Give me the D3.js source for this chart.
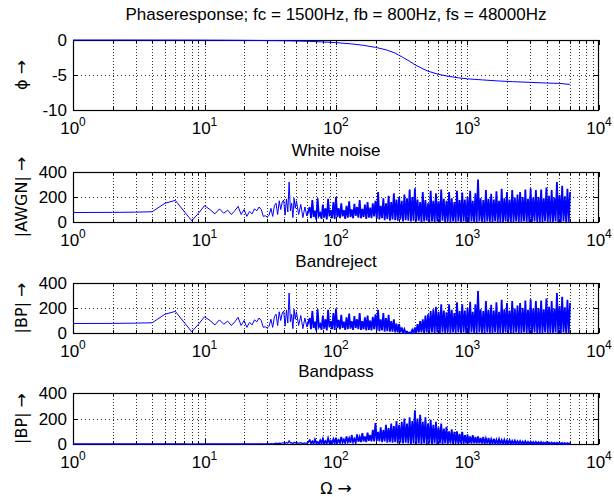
<!DOCTYPE html>
<html><head><meta charset="utf-8">
<script src="https://cdn.jsdelivr.net/npm/d3@7"></script>
<style>body{margin:0;background:#fff} text{font-family:"Liberation Sans",Arial,Helvetica,sans-serif;fill:#000}</style>
</head><body><svg id="c" width="614" height="497"></svg>
<script>
// ---------- data ----------
const mainTitle = "Phaseresponse; fc = 1500Hz, fb = 800Hz, fs = 48000Hz";
const panelTitles = ["", "White noise", "Bandreject", "Bandpass"];
const yLabels = ["\u03d5", "|AWGN|", "|BP|", "|BP|"];
const arrow = "\u2192";
const xLabel = "\u03a9";
const xTickValues = [1, 10, 100, 1000, 10000];
const xTickExponents = ["0", "1", "2", "3", "4"];
const phaseTicks = [-10, -5, 0];
const magTicks = [0, 200, 400];

const phaseFreq = [1, 2, 5, 10, 20, 40, 60, 80, 100, 130, 160, 200, 240, 280, 320, 360, 400, 450, 500, 600, 700, 850, 1000, 1300, 1700, 2200, 3000, 4000, 5000, 6000];
const phaseVal  = [0, 0, -0.01, -0.02, -0.05, -0.1, -0.18, -0.28, -0.38, -0.55, -0.75, -1.05, -1.4, -1.85, -2.45, -3.0, -3.55, -4.05, -4.45, -4.9, -5.15, -5.4, -5.55, -5.7, -5.85, -5.95, -6.05, -6.15, -6.2, -6.35];

const lowFreq = [1,2,3,4,5,6,7,8,9,10,11,12,13,14,15,16,17,18,19,20,21,22,23,24,25,26,27,28,29,30,31,32,33,34,35,36,37,38,39,40,41,42,43,44,45,46,47,48,49,50,52,54,56,58,60];
const awgnLow = [76,77,79,82,150,173,85,10,70,130,100,65,105,70,95,60,90,125,60,100,45,85,65,105,90,120,100,45,50,40,55,110,45,130,150,60,170,100,160,175,55,185,80,320,90,150,35,190,110,170,60,140,35,120,50];
const bandrejectLow = [76,77,79,82,150,173,85,10,70,130,100,65,105,70,95,60,90,125,60,100,45,85,65,105,90,120,100,45,50,40,55,110,45,130,150,60,170,100,160,175,55,185,80,320,90,150,35,190,110,170,60,140,35,120,50];
const bandpassLow = [1,1,1,1,1,1,1,0,1,1,1,1,1,1,1,1,1,1,1,1,1,1,1,1,1,2,2,1,1,1,2,3,2,4,6,3,7,5,8,9,4,12,6,25,7,10,3,14,8,12,5,10,3,9,4];

// dense part: values read column by column, log10(f) from 1.80 in steps of 0.01
const denseLogStart = 1.80, denseLogStep = 0.01;
const awgnDense = [
 120,30,175,40,90,20,190,50,70,25,140,35,110,20,185,45,95,30,160,25,
 200,40,110,30,150,45,95,25,130,35,165,40,100,30,145,50,120,35,175,30,105,40,140,25,160,35,115,30,150,45,
 170,25,240,20,130,30,190,15,150,25,210,10,160,20,230,15,180,10,200,20,170,5,220,15,190,10,260,5,200,10,
 270,5,180,10,160,0,240,5,175,10,150,0,250,5,170,0,230,5,165,0,260,10,185,0,170,5,240,0,190,5,160,0,250,5,175,0,235,5,180,0,
 200,0,250,5,170,0,230,0,340,5,190,0,175,0,255,5,185,0,225,0,180,5,245,0,170,0,265,0,190,5,240,0,180,0,255,0,195,5,220,0,
 240,0,200,5,260,0,185,0,270,0,195,5,255,0,200,0,260,0,190,5,275,0,210,0,255,0,195,5,320,0,215,0,290,5,205,0,265,0,240];
const bandrejectDense = [
 120,30,175,40,90,20,190,50,70,25,140,35,110,20,185,45,95,30,160,25,
 195,40,105,30,145,40,90,25,125,30,155,35,95,25,135,40,110,30,160,25,95,30,125,20,140,25,100,20,130,30,
 150,20,185,15,110,20,160,10,120,15,145,10,95,10,110,5,75,5,70,5,45,0,30,0,12,0,5,0,25,0,
 45,0,70,5,95,5,110,0,140,5,150,0,175,5,190,0,210,5,170,0,230,5,180,0,165,5,230,0,185,5,160,0,245,5,175,0,230,5,180,0,
 200,0,250,5,170,0,230,0,335,5,190,0,175,0,255,5,185,0,225,0,180,5,245,0,170,0,265,0,190,5,240,0,180,0,255,0,195,5,220,0,
 240,0,200,5,260,0,185,0,270,0,195,5,255,0,200,0,260,0,190,5,275,0,210,0,255,0,195,5,320,0,215,0,290,5,205,0,265,0,240];
const bandpassDense = [
 30,5,20,3,35,8,15,2,28,5,40,6,22,4,45,8,25,5,38,6,
 50,10,30,8,55,12,35,8,60,15,45,10,70,15,40,12,75,18,55,15,85,20,60,15,90,25,70,20,110,20,
 165,25,95,20,130,15,110,20,150,10,125,15,160,10,140,15,180,5,150,10,175,5,200,10,160,5,210,0,180,5,
 265,0,200,5,230,0,175,5,210,0,160,5,190,0,150,5,175,0,130,5,160,0,120,5,135,0,100,5,115,0,95,5,100,0,80,5,95,0,70,5,
 75,5,60,3,70,5,55,3,60,5,48,3,55,2,42,3,48,2,38,2,42,2,34,2,38,2,30,2,33,1,27,1,30,1,24,1,26,1,22,1,
 23,1,19,1,21,1,17,1,19,1,15,1,17,1,14,1,15,1,12,1,13,1,11,1,12,1,10,1,10,1,9,1,9,1,8,1,8,1,7];

// ---------- build series ----------
function lowSeries(low) { return lowFreq.map((f, i) => [f, low[i]]); }
function denseSeries(low, dense) {
  const a = [[lowFreq[lowFreq.length - 1], low[low.length - 1]]];
  dense.forEach((v, i) => a.push([Math.pow(10, denseLogStart + i * denseLogStep), v]));
  return a;
}
const phaseData = phaseFreq.map((f, i) => [f, phaseVal[i]]);

const L = 73, R = 599;
const panels = [
  {top: 40,  bottom: 110, domain: [-10, 0], ticks: phaseTicks, paths: [[phaseData, 1]]},
  {top: 172, bottom: 222, domain: [0, 400], ticks: magTicks, paths: [[lowSeries(awgnLow), 1], [denseSeries(awgnLow, awgnDense), 1.8]]},
  {top: 283, bottom: 333, domain: [0, 400], ticks: magTicks, paths: [[lowSeries(bandrejectLow), 1], [denseSeries(bandrejectLow, bandrejectDense), 1.8]]},
  {top: 393, bottom: 444, domain: [0, 400], ticks: magTicks, paths: [[lowSeries(bandpassLow), 1.2], [denseSeries(bandpassLow, bandpassDense), 1.8]]}
];

const svg = d3.select('#c');
const x = d3.scaleLog().domain([1, 1e4]).range([L, R]);
const allTicks = x.ticks();
const px = v => Math.round(v) + 0.5;

svg.append('text').attr('x', (L + R) / 2).attr('y', 20).attr('text-anchor', 'middle')
  .attr('font-size', 17).text(mainTitle);

panels.forEach((p, k) => {
  const y = d3.scaleLinear().domain(p.domain).range([p.bottom, p.top]);
  const g = svg.append('g');
  // grid
  g.selectAll('line.gv').data(allTicks.filter(t => t > 1 && t < 1e4)).join('line')
    .attr('x1', d => px(x(d))).attr('x2', d => px(x(d)))
    .attr('y1', p.top).attr('y2', p.bottom)
    .attr('stroke', '#000').attr('stroke-width', 1).attr('stroke-dasharray', '1,2').attr('opacity', 0.8);
  g.selectAll('line.gh').data(p.ticks.slice(1, -1)).join('line')
    .attr('x1', L).attr('x2', R).attr('y1', d => px(y(d))).attr('y2', d => px(y(d)))
    .attr('stroke', '#000').attr('stroke-width', 1).attr('stroke-dasharray', '1,3').attr('opacity', 0.8);
  // ticks (inward)
  allTicks.forEach(t => {
    const len = xTickValues.includes(t) ? 5 : 3;
    const xx = px(x(t));
    g.append('line').attr('x1', xx).attr('x2', xx).attr('y1', p.bottom).attr('y2', p.bottom - len).attr('stroke', '#000');
    g.append('line').attr('x1', xx).attr('x2', xx).attr('y1', p.top).attr('y2', p.top + len).attr('stroke', '#000');
  });
  p.ticks.forEach(t => {
    const yy = px(y(t));
    g.append('line').attr('x1', L).attr('x2', L + 5).attr('y1', yy).attr('y2', yy).attr('stroke', '#000');
    g.append('line').attr('x1', R).attr('x2', R - 5).attr('y1', yy).attr('y2', yy).attr('stroke', '#000');
  });
  // box
  g.append('rect').attr('x', L + 0.5).attr('y', p.top + 0.5).attr('width', R - L - 1).attr('height', p.bottom - p.top)
    .attr('fill', 'none').attr('stroke', '#000').attr('stroke-width', 1.2);
  // data lines (drawn over the box, like the reference)
  const cid = 'clip' + k;
  svg.append('clipPath').attr('id', cid).append('rect')
    .attr('x', L).attr('y', p.top - 1).attr('width', R - L).attr('height', p.bottom - p.top + 2);
  p.paths.forEach(([data, w]) => {
    g.append('path').datum(data).attr('clip-path', `url(#${cid})`)
      .attr('d', d3.line().x(d => x(d[0])).y(d => y(d[1])))
      .attr('fill', 'none').attr('stroke', '#0000ff').attr('stroke-width', w).attr('stroke-linejoin', 'miter');
  });
  // y tick labels
  g.selectAll('text.yt').data(p.ticks).join('text')
    .attr('x', L - 6).attr('y', d => y(d)).attr('dy', '0.36em').attr('text-anchor', 'end')
    .attr('font-size', 17).text(d => d);
  // x tick labels
  xTickValues.forEach((t, i) => {
    const tx = g.append('text').attr('x', x(t)).attr('y', p.bottom + 24).attr('text-anchor', 'middle').attr('font-size', 17);
    tx.append('tspan').text('10');
    tx.append('tspan').attr('dy', -8).attr('font-size', 12).text(xTickExponents[i]);
  });
  // y label
  const yl = g.append('text').attr('transform', `translate(27,${(p.top + p.bottom) / 2}) rotate(-90)`)
    .attr('text-anchor', 'middle').attr('font-size', 17);
  yl.append('tspan').attr('font-family', 'DejaVu Sans').attr('font-size', 16).text(yLabels[k] + ' ');
  yl.append('tspan').attr('font-family', 'DejaVu Sans').attr('font-size', 17).text(arrow);
  // panel title
  if (panelTitles[k]) {
    g.append('text').attr('x', (L + R) / 2).attr('y', p.top - 16).attr('text-anchor', 'middle')
      .attr('font-size', 17).text(panelTitles[k]);
  }
});
const xl = svg.append('text').attr('x', (L + R) / 2).attr('y', 494).attr('text-anchor', 'middle')
  .attr('font-size', 17);
xl.append('tspan').attr('font-family', 'DejaVu Sans').attr('font-size', 16).text(xLabel + ' ');
xl.append('tspan').attr('font-family', 'DejaVu Sans').attr('font-size', 17).text(arrow);
</script></body></html>
